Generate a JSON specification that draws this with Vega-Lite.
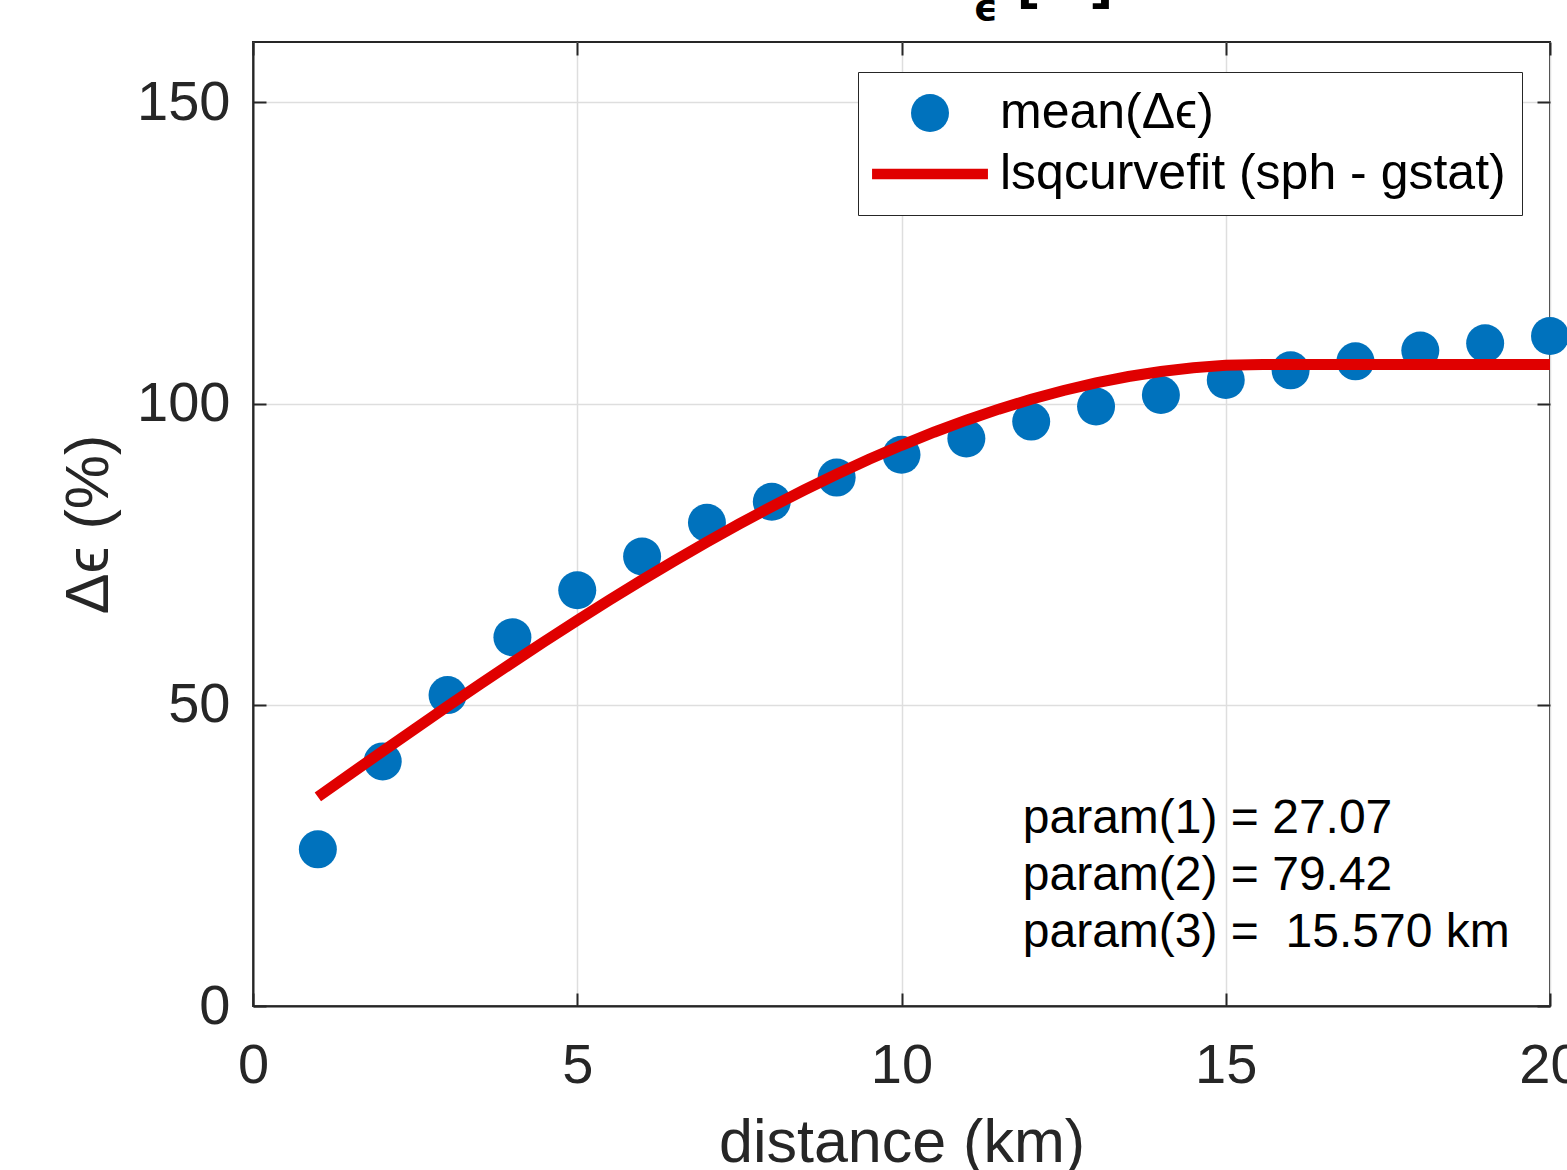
{
  "$schema": "https://vega.github.io/schema/vega-lite/v6.json",
  "width": 1297,
  "height": 964,
  "autosize": {"type": "none"},
  "padding": {"left": 253, "top": 42, "right": 17, "bottom": 164},
  "background": "white",
  "config": {
    "view": {"stroke": "#262626", "strokeWidth": 2},
    "font": "Liberation Sans",
    "axis": {
      "domainColor": "#262626",
      "domainWidth": 2,
      "tickColor": "#262626",
      "tickWidth": 2,
      "tickSize": -13,
      "gridColor": "#dedede",
      "gridWidth": 1.5,
      "labelFont": "Liberation Sans",
      "labelFontSize": 56,
      "labelColor": "#262626",
      "titleFont": "Liberation Sans",
      "titleFontSize": 61,
      "titleFontWeight": "normal",
      "titleColor": "#262626"
    }
  },
  "datasets": {
    "pts": [
      {"distance": 1, "value": 26.0, "series": "mean(Δϵ)"},
      {"distance": 2, "value": 40.6, "series": "mean(Δϵ)"},
      {"distance": 3, "value": 51.6, "series": "mean(Δϵ)"},
      {"distance": 4, "value": 61.2, "series": "mean(Δϵ)"},
      {"distance": 5, "value": 69.0, "series": "mean(Δϵ)"},
      {"distance": 6, "value": 74.6, "series": "mean(Δϵ)"},
      {"distance": 7, "value": 80.2, "series": "mean(Δϵ)"},
      {"distance": 8, "value": 83.7, "series": "mean(Δϵ)"},
      {"distance": 9, "value": 87.7, "series": "mean(Δϵ)"},
      {"distance": 10, "value": 91.5, "series": "mean(Δϵ)"},
      {"distance": 11, "value": 94.2, "series": "mean(Δϵ)"},
      {"distance": 12, "value": 97.0, "series": "mean(Δϵ)"},
      {"distance": 13, "value": 99.5, "series": "mean(Δϵ)"},
      {"distance": 14, "value": 101.4, "series": "mean(Δϵ)"},
      {"distance": 15, "value": 103.9, "series": "mean(Δϵ)"},
      {"distance": 16, "value": 105.5, "series": "mean(Δϵ)"},
      {"distance": 17, "value": 107.0, "series": "mean(Δϵ)"},
      {"distance": 18, "value": 108.8, "series": "mean(Δϵ)"},
      {"distance": 19, "value": 110.0, "series": "mean(Δϵ)"},
      {"distance": 20, "value": 111.2, "series": "mean(Δϵ)"}
    ],
    "fit": [
      {"distance": 1, "value": 34.71},
      {"distance": 1.5, "value": 38.51},
      {"distance": 2, "value": 42.29},
      {"distance": 2.5, "value": 46.03},
      {"distance": 3, "value": 49.74},
      {"distance": 3.5, "value": 53.40},
      {"distance": 4, "value": 57.00},
      {"distance": 4.5, "value": 60.54},
      {"distance": 5, "value": 64.01},
      {"distance": 5.5, "value": 67.40},
      {"distance": 6, "value": 70.71},
      {"distance": 6.5, "value": 73.91},
      {"distance": 7, "value": 77.02},
      {"distance": 7.5, "value": 80.02},
      {"distance": 8, "value": 82.89},
      {"distance": 8.5, "value": 85.64},
      {"distance": 9, "value": 88.26},
      {"distance": 9.5, "value": 90.74},
      {"distance": 10, "value": 93.06},
      {"distance": 10.5, "value": 95.23},
      {"distance": 11, "value": 97.23},
      {"distance": 11.5, "value": 99.06},
      {"distance": 12, "value": 100.71},
      {"distance": 12.5, "value": 102.16},
      {"distance": 13, "value": 103.42},
      {"distance": 13.5, "value": 104.48},
      {"distance": 14, "value": 105.32},
      {"distance": 14.5, "value": 105.94},
      {"distance": 15, "value": 106.33},
      {"distance": 15.57, "value": 106.49},
      {"distance": 20, "value": 106.49}
    ],
    "one": [{}]
  },
  "layer": [
    {
      "data": {"name": "pts"},
      "mark": {"type": "point", "filled": true, "opacity": 1, "size": 1444},
      "encoding": {
        "x": {
          "field": "distance", "type": "quantitative",
          "scale": {"domain": [0, 20], "nice": false, "zero": false},
          "axis": {"values": [0, 5, 10, 15, 20], "title": "distance (km)", "grid": true, "labelPadding": 45, "titlePadding": 20, "labelFlush": false}
        },
        "y": {
          "field": "value", "type": "quantitative",
          "scale": {"domain": [0, 160], "nice": false},
          "axis": {"values": [0, 50, 100, 150], "title": "Δϵ (%)", "grid": true, "labelPadding": 36, "titlePadding": 16, "labelFlush": false}
        },
        "color": {
          "field": "series", "type": "nominal",
          "scale": {"domain": ["mean(Δϵ)", "lsqcurvefit (sph - gstat)"], "range": ["#0072bd", "#e00000"]},
          "legend": {
            "title": null,
            "orient": "none",
            "legendX": 605,
            "legendY": 30,
            "direction": "vertical",
            "symbolSize": 1444,
            "symbolOffset": 31,
            "labelFont": "Liberation Sans",
            "labelFontSize": 50,
            "labelColor": "#000000",
            "labelLimit": 800,
            "labelOffset": 45,
            "rowPadding": 11,
            "padding": 16,
            "fillColor": "white",
            "strokeColor": "#262626",
            "symbolOpacity": 1
          }
        },
        "shape": {
          "field": "series", "type": "nominal",
          "scale": {"domain": ["mean(Δϵ)", "lsqcurvefit (sph - gstat)"], "range": ["circle", "M-3.05,-0.27H3.05V0.27H-3.05Z"]},
          "legend": {
            "title": null,
            "orient": "none",
            "legendX": 605,
            "legendY": 30,
            "direction": "vertical",
            "symbolSize": 1444,
            "symbolOffset": 31,
            "labelFont": "Liberation Sans",
            "labelFontSize": 50,
            "labelColor": "#000000",
            "labelLimit": 800,
            "labelOffset": 45,
            "rowPadding": 11,
            "padding": 16,
            "fillColor": "white",
            "strokeColor": "#262626",
            "symbolOpacity": 1
          }
        }
      }
    },
    {
      "data": {"name": "fit"},
      "mark": {"type": "line", "color": "#e00000", "strokeWidth": 11, "strokeCap": "butt"},
      "encoding": {
        "x": {"field": "distance", "type": "quantitative", "scale": {"domain": [0, 20], "nice": false, "zero": false},
              "axis": {"orient": "top", "values": [0, 5, 10, 15, 20], "labels": false, "title": null, "grid": false, "domain": false}},
        "y": {"field": "value", "type": "quantitative", "scale": {"domain": [0, 160], "nice": false},
              "axis": {"orient": "right", "values": [0, 50, 100, 150], "labels": false, "title": null, "grid": false, "domain": false}}
      }
    },
    {
      "data": {"name": "one"},
      "mark": {"type": "text", "align": "left", "baseline": "alphabetic", "font": "Liberation Sans", "fontSize": 48, "lineHeight": 57, "color": "#000000"},
      "encoding": {
        "x": {"datum": 11.87, "type": "quantitative", "axis": null},
        "y": {"datum": 28.7, "type": "quantitative", "axis": null},
        "text": {"value": ["param(1) = 27.07", "param(2) = 79.42", "param(3) = \u00a015.570 km"]}
      }
    },
    {
      "data": {"name": "one"},
      "mark": {"type": "text", "align": "right", "baseline": "alphabetic", "font": "Liberation Sans", "fontSize": 61, "fontWeight": "bold", "color": "#000000"},
      "encoding": {
        "x": {"datum": 13.25, "type": "quantitative", "axis": null},
        "y": {"datum": 167.7, "type": "quantitative", "axis": null},
        "text": {"value": "Δ\u00a0\u00a0\u00a0[%]"}
      }
    },
    {
      "data": {"name": "one"},
      "mark": {"type": "text", "align": "center", "baseline": "alphabetic", "font": "DejaVu Sans", "fontSize": 38, "fontWeight": "bold", "color": "#000000"},
      "encoding": {
        "x": {"datum": 11.3, "type": "quantitative", "axis": null},
        "y": {"datum": 163.6, "type": "quantitative", "axis": null},
        "text": {"value": "ϵ"}
      }
    }
  ],
  "resolve": {"axis": {"x": "independent", "y": "independent"}}
}
